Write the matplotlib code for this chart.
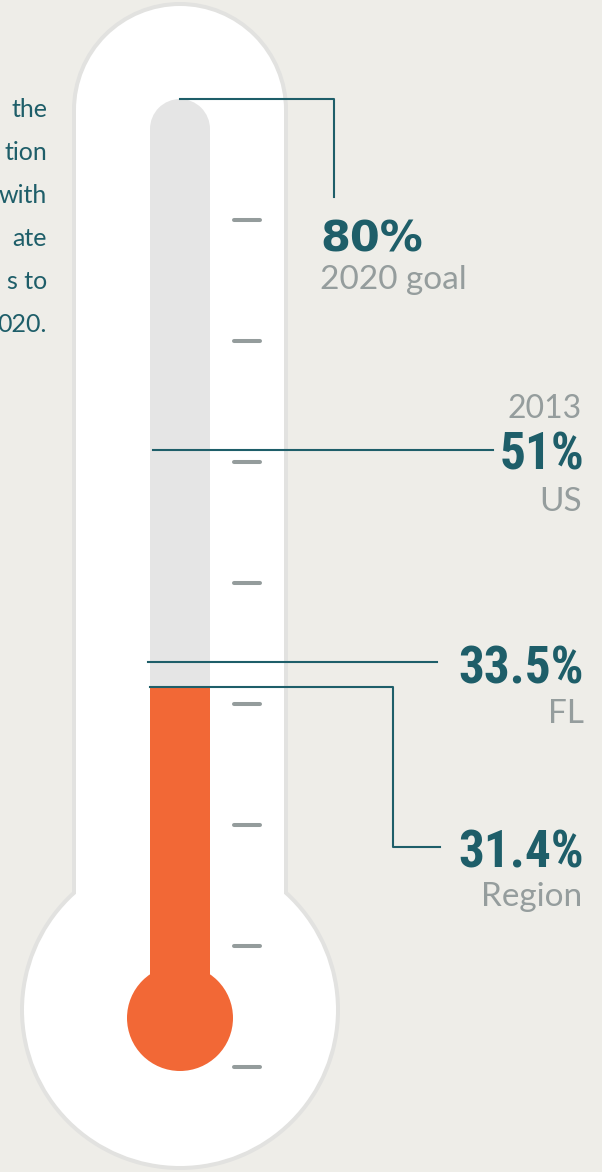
import matplotlib.pyplot as plt
from matplotlib.patches import Rectangle, Ellipse

# Datos del termómetro
labels = ['2020 goal', 'US', 'FL', 'Region']
values = [80, 51, 33.5, 31.4]
value_text = ['80%', '51%', '33.5%', '31.4%']
tick_values = [0, 10, 20, 30, 40, 50, 60, 70]
year_note = '2013'
note_lines = ['the', 'tion', 'with', 'ate', 's to', '020.']

# Colores
bg = '#EEEDE8'
teal = '#1E5E69'
grey_txt = '#959D9D'
orange = '#F26836'
tube = '#E5E5E5'
border = '#E2E2E0'

# escala: 1% = K px, 0% en la fila Y0
K = 12.1
Y0 = 1067


def yp(px):
    # fila de pixel -> unidades del eje (%)
    return (Y0 - px) / K


fig = plt.figure(figsize=(6.02, 11.72), dpi=100)
fig.patch.set_facecolor(bg)
ax = fig.add_axes([0, 0, 1, 1])
ax.set_xlim(0, 602)
ax.set_ylim(yp(1172), yp(0))
ax.axis('off')

# Cuerpo del termómetro (borde gris + relleno blanco)
for col, w, z in [(border, 216, 1), ('white', 208, 2)]:
    ax.add_patch(Ellipse((180, yp(110)), w, w / K, color=col, zorder=z, lw=0))
    ax.add_patch(Rectangle((180 - w / 2, yp(1010)), w, yp(110) - yp(1010), color=col, zorder=z, lw=0))
    wb = w + 104
    ax.add_patch(Ellipse((180, yp(1010)), wb, wb / K, color=col, zorder=z, lw=0))

# Tubo gris hasta la meta
top = values[0]
ax.add_patch(Ellipse((180, top - 30 / K), 60, 60 / K, color=tube, zorder=3, lw=0))
ax.add_patch(Rectangle((150, yp(1018)), 60, top - 30 / K - yp(1018), color=tube, zorder=3, lw=0))

# Relleno naranja (region)
ax.add_patch(Rectangle((150, yp(1018)), 60, values[3] - yp(1018), color=orange, zorder=4, lw=0))
ax.add_patch(Ellipse((180, yp(1018)), 106, 106 / K, color=orange, zorder=4, lw=0))

# Marcas de la escala
ax.hlines(tick_values, 234, 260, colors='#949C9C', lw=2.9, capstyle='round', zorder=5)

# Líneas guía
lw = 1.5
ax.plot([180, 334, 334], [values[0], values[0], yp(197)], color=teal, lw=lw, zorder=6)
ax.plot([153, 493], [values[1], values[1]], color=teal, lw=lw, zorder=6)
ax.plot([148, 437], [values[2], values[2]], color=teal, lw=lw, zorder=6)
ax.plot([150, 393, 393, 440], [values[3], values[3], yp(847), yp(847)], color=teal, lw=lw, zorder=6)

big_cond = ['Noto Sans Condensed', 'Roboto Condensed', 'Liberation Sans Narrow',
            'Open Sans Condensed', 'Lato']
lab_font = ['Lato', 'DejaVu Sans']

# Etiquetas
ax.text(320, yp(252), value_text[0], ha='left', va='baseline', fontsize=31,
        fontweight='bold', family=['DejaVu Sans'], color=teal)
ax.text(320, yp(289), labels[0], ha='left', va='baseline', fontsize=24, family=lab_font, color=grey_txt)

ax.text(582, yp(418), year_note, ha='right', va='baseline', fontsize=23, family=lab_font, color=grey_txt)
ax.text(584, yp(470), value_text[1], ha='right', va='baseline', fontsize=37,
        fontweight='black', fontstretch='condensed', family=big_cond, color=teal)
ax.text(582, yp(511), labels[1], ha='right', va='baseline', fontsize=24, family=lab_font, color=grey_txt)

ax.text(584, yp(683), value_text[2], ha='right', va='baseline', fontsize=37,
        fontweight='black', fontstretch='condensed', family=big_cond, color=teal)
ax.text(584, yp(723), labels[2], ha='right', va='baseline', fontsize=24, family=lab_font, color=grey_txt)

ax.text(584, yp(867), value_text[3], ha='right', va='baseline', fontsize=37,
        fontweight='black', fontstretch='condensed', family=big_cond, color=teal)
ax.text(582, yp(906), labels[3], ha='right', va='baseline', fontsize=24, family=lab_font, color=grey_txt)

# Texto de la izquierda (la parte visible junto al borde)
for i, line in enumerate(note_lines):
    ax.text(47, yp(117 + 43 * i), line, ha='right', va='baseline', fontsize=18,
            family=lab_font, color=teal)

plt.savefig('out.png', dpi=100, facecolor=bg)
